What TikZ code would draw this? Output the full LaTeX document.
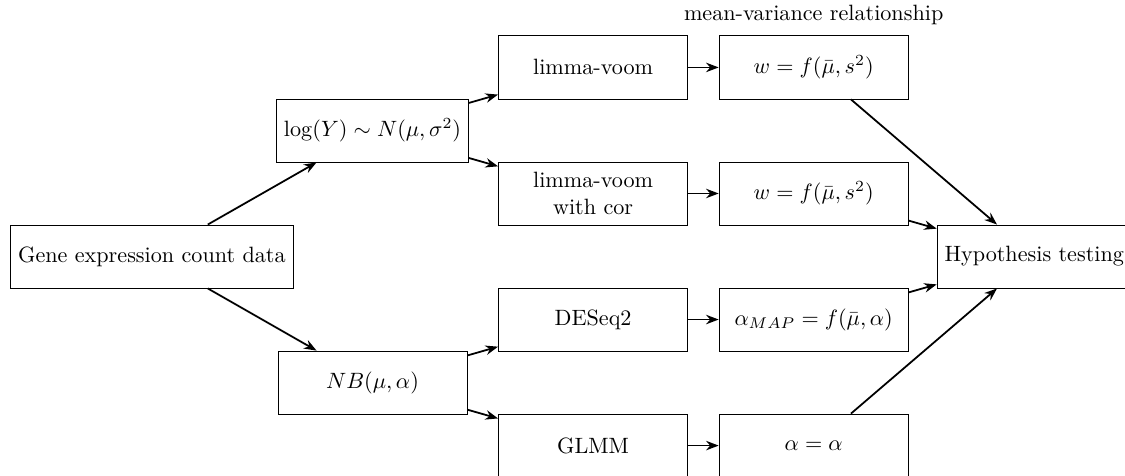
\documentclass[tikz,border=0pt]{standalone}
\usepackage{amsmath, amssymb}
\usepackage{tikz}
\usetikzlibrary{positioning,arrows.meta}

\begin{document}
\begin{tikzpicture}[
  every node/.style={draw, align=center, minimum width=3cm, minimum height=1cm},
  lbl/.style={draw=none, minimum width=0pt, minimum height=0pt},
  node distance=2cm and 3.5cm, on grid
]
\useasboundingbox (-2.41,-3.47) rectangle (15.44,4.07);

\node (gene) {Gene expression count data};

\node (lognorm) [above right=of gene] {$\log(Y) \sim N(\mu,\sigma^2)$};
\node (negbin) [below right=of gene] {$NB(\mu,\alpha)$};

\node (voom) [above right=1cm and 3.5cm of lognorm] {limma-voom};
\node (voomcor) [below right=1cm and 3.5cm of lognorm] {limma-voom\\with cor};
\node (deseq) [above right=1cm and 3.5cm of negbin] {DESeq2};
\node (glmm) [below right=1cm and 3.5cm of negbin] {GLMM};

\node (wvoom) [right=of voom] {$w = f(\bar{\mu}, s^2)$};
\node (wcor) [right=of voomcor] {$w = f(\bar{\mu}, s^2)$};
\node (amap) [right=of deseq] {$\alpha_{MAP} = f(\bar{\mu}, \alpha)$};
\node (aglmm) [right=of glmm] {$\alpha = \alpha$};

\node (mvr) [lbl, above=0.5mm of wvoom.north] {mean-variance relationship};

\node (hyp) [below right=1cm and 3.5cm of wcor] {Hypothesis testing};

\draw[thick, -{Stealth[length=2mm]}] (gene) -- (lognorm);
\draw[thick, -{Stealth[length=2mm]}] (gene) -- (negbin);

\draw[thick, -{Stealth[length=2mm]}] (lognorm) -- (voom);
\draw[thick, -{Stealth[length=2mm]}] (lognorm) -- (voomcor);
\draw[thick, -{Stealth[length=2mm]}] (negbin) -- (deseq);
\draw[thick, -{Stealth[length=2mm]}] (negbin) -- (glmm);

\draw[thick, -{Stealth[length=2mm]}] (voom) -- (wvoom);
\draw[thick, -{Stealth[length=2mm]}] (voomcor) -- (wcor);
\draw[thick, -{Stealth[length=2mm]}] (deseq) -- (amap);
\draw[thick, -{Stealth[length=2mm]}] (glmm) -- (aglmm);

\draw[thick, -{Stealth[length=2mm]}] (wvoom) -- (hyp);
\draw[thick, -{Stealth[length=2mm]}] (wcor) -- (hyp);
\draw[thick, -{Stealth[length=2mm]}] (amap) -- (hyp);
\draw[thick, -{Stealth[length=2mm]}] (aglmm) -- (hyp);
\end{tikzpicture}
\end{document}
